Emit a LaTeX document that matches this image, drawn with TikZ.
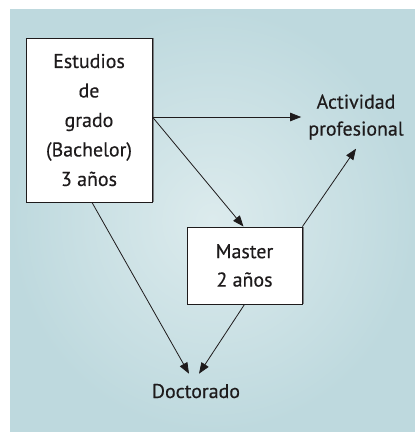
\documentclass[tikz,border=0pt]{standalone}
\usepackage{fontspec}
\setmainfont[FakeBold=0.4]{PT Sans}
\usetikzlibrary{arrows.meta}
\definecolor{ink}{HTML}{1E1B1C}
\definecolor{bgin}{HTML}{DCEBED}
\definecolor{bgout}{HTML}{BED9DE}
\definecolor{shadowgray}{HTML}{7A7F82}
\begin{document}
\begin{tikzpicture}[x=1bp,y=-1bp,
  txt/.style={text=ink,font=\fontsize{20pt}{29.6pt}\selectfont,align=center},
  boxnode/.style={txt,draw=ink,line width=0.9bp,fill=white,inner sep=0pt},
  conn/.style={draw=ink,line width=0.8bp,-{Triangle[length=11bp,width=8.5bp]}}]
\useasboundingbox (0,0) rectangle (415,432);
\fill[white] (0,0) rectangle (415,432);
\shade[inner color=bgin,outer color=bgout] (10,9) rectangle (415,432);
\node[boxnode,minimum width=126bp,minimum height=164bp] (bach) at (89,120)
  {Estudios\\de\\grado\\(Bachelor)\\3 años};
\node[boxnode,minimum width=115bp,minimum height=77bp,
  font=\fontsize{20pt}{28.5pt}\selectfont] (master) at (244.5,265.5)
  {\raisebox{-2bp}{Master}\\\raisebox{-2bp}{2 años}};
\draw[shadowgray,line width=1.2bp] ([xshift=1.2bp]bach.north east) -- ([xshift=1.2bp]bach.south east);
\draw[shadowgray,line width=1.2bp] ([xshift=1.2bp]master.north east) -- ([xshift=1.2bp]master.south east);
\node[txt,inner sep=7bp,font=\fontsize{20pt}{27pt}\selectfont] (act) at (356,117)
  {Actividad\\profesional};
\node[txt,anchor=base,inner sep=0pt] (doc) at (196,398) {Doctorado};
\draw[conn] (bach.east |- act.west) -- (act.west);
\draw[conn] (bach.east |- act.west) -- ([xshift=-1bp]master.north);
\draw[conn] (master.north east) -- ([yshift=-2bp]act.south);
\draw[conn] ([xshift=3bp]bach.south) -- ([xshift=-7bp,yshift=10bp]doc.north);
\draw[conn] (master.south) -- ([xshift=3bp,yshift=10bp]doc.north);
\end{tikzpicture}
\end{document}
